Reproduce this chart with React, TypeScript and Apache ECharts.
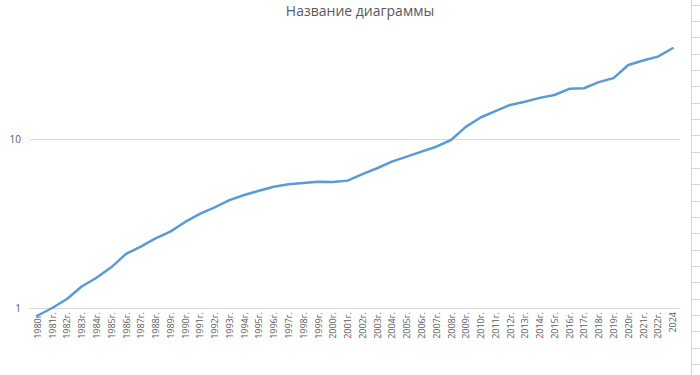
import React, { useEffect, useRef } from "react";
import * as echarts from "echarts";

const title = "Название диаграммы";

const years: string[] = [
  "1980г.", "1981г.", "1982г.", "1983г.", "1984г.", "1985г.", "1986г.", "1987г.", "1988г.", "1989г.",
  "1990г.", "1991г.", "1992г.", "1993г.", "1994г.", "1995г.", "1996г.", "1997г.", "1998г.", "1999г.",
  "2000г.", "2001г.", "2002г.", "2003г.", "2004г.", "2005г.", "2006г.", "2007г.", "2008г.", "2009г.",
  "2010г.", "2011г.", "2012г.", "2013г.", "2014г.", "2015г.", "2016г.", "2017г.", "2018г.", "2019г.",
  "2020г.", "2021г.", "2022г.", "2024",
];

const values: number[] = [
  0.9, 1.0, 1.13, 1.34, 1.51, 1.74, 2.09, 2.31, 2.58, 2.83,
  3.23, 3.6, 3.94, 4.35, 4.66, 4.94, 5.22, 5.39, 5.49, 5.59,
  5.57, 5.67, 6.19, 6.71, 7.34, 7.86, 8.41, 9.0, 9.86, 11.8,
  13.4, 14.6, 15.9, 16.6, 17.5, 18.2, 19.8, 19.95, 21.7, 22.9,
  27.4, 29.1, 30.7, 34.4,
];

const yMin = 1;
const yMax = 66.4;

const FONT = "'Open Sans', 'Noto Sans', sans-serif";

export default function App() {
  const ref = useRef<HTMLDivElement>(null);

  useEffect(() => {
    document.body.style.margin = "0";
    if (!ref.current) return;
    const chart = echarts.init(ref.current, undefined, { renderer: "svg" });

    const sheetLines: any[] = [
      {
        type: "line",
        shape: { x1: 691.5, y1: 0, x2: 691.5, y2: 375 },
        style: { stroke: "#d6d6d6", lineWidth: 1 },
        silent: true,
      },
    ];
    for (let n = -1; n <= 22; n++) {
      const y = Math.round(21 + 16.33 * n) + 0.5;
      sheetLines.push({
        type: "line",
        shape: { x1: 691.5, y1: y, x2: 700, y2: y },
        style: { stroke: "#d6d6d6", lineWidth: 1 },
        silent: true,
      });
    }

    chart.setOption({
      animation: false,
      backgroundColor: "#ffffff",
      title: {
        text: title,
        left: 360,
        textAlign: "center",
        top: 3,
        padding: 0,
        textStyle: { fontFamily: FONT, fontSize: 14, fontWeight: "normal", color: "#595959" },
      },
      grid: { left: 30, right: 20, top: 0, bottom: 67, containLabel: false },
      xAxis: {
        type: "category",
        data: years,
        boundaryGap: true,
        axisLine: { show: true, lineStyle: { color: "#d9d9d9", width: 1 } },
        axisTick: { show: false },
        axisLabel: {
          interval: 0,
          rotate: 90,
          margin: 4,
          fontSize: 9,
          fontFamily: FONT,
          color: "#595959",
        },
      },
      yAxis: {
        type: "log",
        logBase: 10,
        min: yMin,
        max: yMax,
        axisLine: { show: false },
        axisTick: { show: false },
        splitLine: {
          show: true,
          showMaxLine: false,
          lineStyle: { color: "#d9d9d9", width: 1 },
        },
        axisLabel: {
          fontSize: 10,
          fontFamily: FONT,
          color: "#595959",
          margin: 9,
          showMaxLabel: false,
          formatter: (v: number) => {
            const l = Math.log10(v);
            return Math.abs(l - Math.round(l)) < 1e-6 ? String(Math.round(v)) : "";
          },
        },
      },
      series: [
        {
          type: "line",
          data: values,
          clip: false,
          symbol: "none",
          smooth: false,
          lineStyle: { color: "#5b9bd5", width: 2.5, cap: "round", join: "round" },
        },
      ],
      graphic: sheetLines,
    });

    return () => chart.dispose();
  }, []);

  return <div ref={ref} style={{ width: 700, height: 375 }} />;
}
